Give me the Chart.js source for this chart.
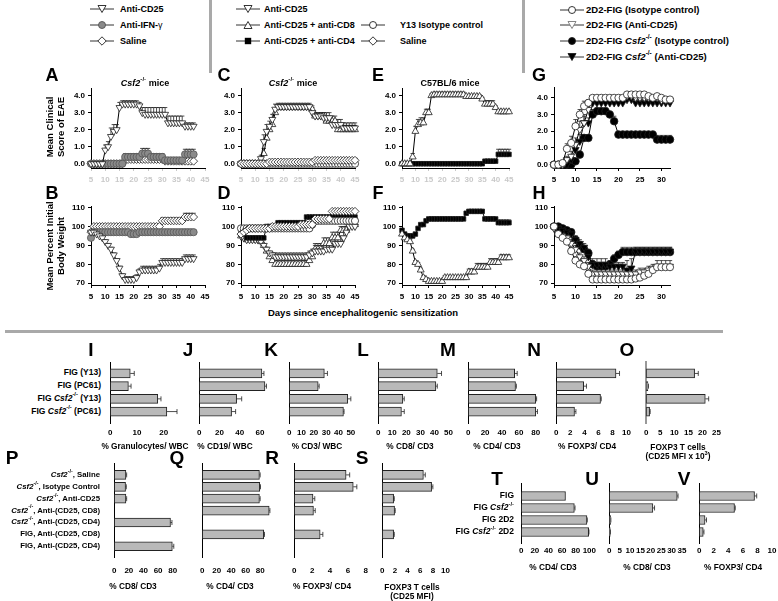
<!DOCTYPE html>
<html>
<head>
<meta charset="utf-8">
<script src="https://cdn.jsdelivr.net/npm/chart.js@4.4.1/dist/chart.umd.min.js"></script>
<style>
body{margin:0;width:778px;height:601px;background:#fff;position:relative;overflow:hidden;font-family:"Liberation Sans",Arial,sans-serif;color:#000}
.t{position:absolute;white-space:nowrap;font-weight:bold;line-height:1.12}
.sep{position:absolute;background:#a9a9a9}
canvas{position:absolute}
sup{font-size:0.68em;position:relative;top:-0.1em;vertical-align:super;line-height:0}
</style>
</head>
<body>
<script>
// ---- days (x categories) ----
const daysA = [5,6,7,8,9,10,11,12,13,14,15,16,17,18,19,20,21,22,23,24,25,26,27,28,29,30,31,32,33,34,35,36,37,38,39,40,41];
const daysCF = [5,6,7,8,9,10,11,12,13,14,15,16,17,18,19,20,21,22,23,24,25,26,27,28,29,30,31,32,33,34,35,36,37,38,39,40,41,42,43,44,45];
const daysGH = [5,6,7,8,9,10,11,12,13,14,15,16,17,18,19,20,21,22,23,24,25,26,27,28,29,30,31,32];

// ---- A / B : Csf2-/- mice ----
const aAntiCD25 = [0,0,0,0,0,0.8,1.0,1.6,1.9,2.0,3.3,3.5,3.5,3.5,3.5,3.5,3.5,3.4,3.0,2.9,2.9,2.9,2.9,2.9,2.9,2.9,2.9,2.4,2.4,2.4,2.4,2.4,2.4,2.2,2.2,2.2,2.2];
const aAntiCD25Err = [0,0,0,0,0,0.3,0.3,0.5,0.4,0.3,0.3,0.2,0.2,0.2,0.2,0.2,0.2,0.2,0.3,0.4,0.4,0.4,0.4,0.4,0.4,0.4,0.4,0.4,0.4,0.4,0.4,0.4,0.4,0.2,0.2,0.2,0.2];
const aAntiIFN = [0,0,0,0,0,0,0,0,0,0,0,0,0.4,0.4,0.4,0.4,0.4,0.4,0.6,0.6,0.6,0.4,0.4,0.4,0.4,0.4,0.2,0.2,0.2,0.2,0.2,0.2,0.2,0.55,0.55,0.55,0.55];
const aAntiIFNErr = [0,0,0,0,0,0,0,0,0,0,0,0,0.2,0.2,0.2,0.2,0.2,0.2,0.3,0.3,0.3,0.2,0.2,0.2,0.2,0.2,0,0,0,0,0,0,0,0.3,0.3,0.3,0.3];
const aSaline = [0,0,0,0,0,0,0,0,0,0,0,0,0.25,0.25,0.25,0.25,0.25,0.25,0.25,0.25,0.25,0.25,0.25,0.25,0.25,0.25,0.15,0.15,0.15,0.15,0.15,0.15,0.15,0.15,0.15,0.15,0.15];

const bAntiCD25 = [97,97,96,95,94,92,90,88,85,82,78,74,72,72,72,72,73,76,77,77,77,77,77,77,78,81,81,81,81,81,81,81,81,83,83,83,83];
const bAntiCD25Err = [1,1,1,1,1,1,1,1,1,1,1,1,1.5,1.5,1.5,1.5,1.5,1.5,2,2,2,2,2,2,2,2,2,2,2,2,2,2,2,2,2,2,2];
const bAntiIFN = [94,97,97,97,97,97,97,97,97,97,97,97,97,97,96,96,96,97,97,97,97,97,97,97,97,97,97,97,97,97,97,97,97,97,97,97,97];
const bSaline = [97,100,100,100,100,100,100,100,100,100,100,100,100,100,100,100,100,100,100,100,100,100,100,100,100,103,103,103,103,103,103,103,103,105,105,105,105];
const bSalineErr = [0,1,1,1,1,1,1,1,1,1,1,1,1,1,1,1,1,1,1,1,1,1,1,1,1,1.5,1.5,1.5,1.5,1.5,1.5,1.5,1.5,2,2,2,2];

// ---- C / D : Csf2-/- mice ----
const cAntiCD25 = [0,0,0,0,0,0,0,0.3,1.3,1.9,2.2,2.6,3.2,3.35,3.35,3.35,3.35,3.35,3.35,3.35,3.35,3.35,3.35,3.35,3.35,3.0,2.8,2.8,2.8,2.7,2.7,2.7,2.3,2.3,2.3,2.3,2.1,2.1,2.1,2.1,2.1];
const cAntiCD25Err = [0,0,0,0,0,0,0,0.2,0.4,0.4,0.3,0.3,0.3,0.2,0.2,0.2,0.2,0.2,0.2,0.2,0.2,0.2,0.2,0.2,0.2,0.3,0.2,0.2,0.2,0.3,0.3,0.3,0.3,0.3,0.3,0.3,0.3,0.3,0.3,0.3,0.3];
const cAntiCD8 = [0,0,0,0,0,0,0,0,0.6,1.5,2.0,2.3,3.0,3.3,3.3,3.3,3.3,3.3,3.3,3.3,3.3,3.3,3.3,3.3,3.3,3.2,2.8,2.8,2.8,2.8,2.5,2.5,2.5,2.5,2.0,2.0,2.0,2.0,2.0,2.0,2.0];
const cAntiCD8Err = [0,0,0,0,0,0,0,0,0.3,0.4,0.3,0.3,0.2,0.15,0.15,0.15,0.15,0.15,0.15,0.15,0.15,0.15,0.15,0.15,0.15,0.2,0.2,0.2,0.2,0.2,0.3,0.3,0.3,0.3,0.25,0.25,0.25,0.25,0.25,0.25,0.25];
const cAntiCD4 = [0,0,0,0,0,0,0,0,0,0,0,0,0,0,0,0,0,0,0,0,0,0,0,0,0,0,0,0,0,0,0,0,0,0,0,0.2,0.2,0.2,0.2,0.2,0.2];
const cY13 = [0,0,0,0,0,0,0,0,0,0,0,0,0,0,0,0,0,0,0,0,0,0,0,0,0,0,0,0,0,0,0,0,0,0,0,0,0,0,0,0,0];
const cSaline = [0,0,0,0,0,0,0,0,0,0,0.1,0.1,0.1,0.1,0.1,0.1,0.1,0.1,0.1,0.1,0.1,0.1,0.1,0.1,0.1,0.1,0.2,0.2,0.2,0.2,0.2,0.2,0.2,0.2,0.2,0.2,0.2,0.2,0.2,0.2,0.2];

const dAntiCD25 = [95,94,93,93,93,93,93,92,90,88,86,85,84,84,84,84,84,84,84,84,84,84,84,84,85,86,87,87,87,87,88,88,88,91,91,91,94,97,100,100,100];
const dAntiCD25Err = [1,1,1,1,1,1,1,1,1,1,1,1,2,2,2,2,2,2,2,2,2,2,2,2,2,2,3,3,3,3,3,3,3,4,4,4,4,4,3,3,3];
const dAntiCD8 = [95,94,93,93,93,93,93,92,90,87,84,82,80,80,80,80,80,80,80,80,80,80,80,80,82,84,88,88,88,91,91,91,94,94,94,98,98,98,101,101,101];
const dAntiCD8Err = [1,1,1,1,1,1,1,1,1,1,1,1,2,2,2,2,2,2,2,2,2,2,2,2,2,2,3,3,3,3,3,3,3,3,3,2,2,2,2,2,2];
const dAntiCD4 = [98,96,94,94,94,94,94,94,94,100,100,100,100,102,102,102,102,102,102,102,102,102,102,105,105,105,105,105,105,105,105,105,105,105,105,105,105,105,105,105,105];
const dY13 = [99,99,99,99,99,99,99,99,99,99,99,99,99,99,99,99,99,99,99,99,99,99,99,99,99,101,103,103,103,103,103,103,103,103,103,103,103,103,103,103,103];
const dSaline = [96,97,98,99,99,99,99,99,99,99,99,100,100,100,100,100,100,100,100,100,100,101,101,101,101,101,104,104,104,104,104,104,108,108,108,108,108,108,108,108,108];

// ---- E / F : C57BL/6 mice ----
const eAntiCD8 = [0,0,0,0,0.4,1.9,2.3,2.4,2.4,3.0,3.0,4.0,4.05,4.05,4.05,4.05,4.05,4.05,4.05,4.05,4.05,4.05,4.05,4.05,3.95,3.95,3.95,3.95,3.95,3.95,3.8,3.5,3.5,3.5,3.5,3.3,3.05,3.05,3.05,3.05,3.05];
const eAntiCD8Err = [0,0,0,0,0.2,0.3,0.3,0.3,0.3,0.2,0.2,0.1,0.15,0.15,0.15,0.15,0.15,0.15,0.15,0.15,0.15,0.15,0.15,0.15,0.1,0.1,0.1,0.1,0.1,0.1,0.1,0.2,0.2,0.2,0.2,0.1,0.1,0.1,0.1,0.1,0.1];
const eAntiCD4 = [0,0,0,0,0,0,0,0,0,0,0,0,0,0,0,0,0,0,0,0,0,0,0,0,0,0,0,0,0,0,0,0.15,0.15,0.15,0.15,0.15,0.55,0.55,0.55,0.55,0.55];
const eAntiCD4Err = [0,0,0,0,0,0,0,0,0,0,0,0,0,0,0,0,0,0,0,0,0,0,0,0,0,0,0,0,0,0,0,0,0,0,0,0,0.3,0.3,0.3,0.3,0.3];

const fAntiCD8 = [96,94,93,92,87,81,80,77,73,72,71,71,71,71,71,71,73,73,73,73,73,73,73,73,73,76,76,76,78.5,78.5,78.5,78.5,78.5,81,81,81,81,83.5,83.5,83.5,83.5];
const fAntiCD8Err = [1,1,1,1,1,1,1,1,1,1,1,1,1,1,1,1,1,1,1,1,1,1,1,1,1,1.5,1.5,1.5,2,2,2,2,2,2,2,2,2,1.5,1.5,1.5,1.5];
const fAntiCD4 = [98,96,95,95,95,96,99,101,101,103,104,104,104,104,104,104,104,104,104,104,104,104,104,104,107,108,108,108,108,108,108,104,104,104,104,104,102,102,102,102,102];
const fAntiCD4Err = [0.5,0.5,0.5,0.5,0.5,0.5,0.5,0.5,0.5,0.5,0.5,0.5,0.5,0.5,0.5,0.5,0.5,0.5,0.5,0.5,0.5,0.5,0.5,0.5,0.5,0.5,0.5,0.5,0.5,0.5,0.5,0.5,0.5,0.5,0.5,0.5,1.5,1.5,1.5,1.5,1.5];

// ---- G / H : 2D2-FIG ----
const gIso = [0,0,0.1,0.95,1.3,2.3,3.0,3.5,3.7,4.0,4.0,4.0,4.0,4.0,4.0,4.0,4.0,4.2,4.2,4.2,4.2,4.2,4.1,4.0,4.1,4.0,3.9,3.9];
const gIsoErr = [0,0,0.1,0.3,0.4,0.4,0.3,0.3,0.2,0.1,0.1,0.1,0.1,0.1,0.1,0.1,0.1,0.1,0.1,0.1,0.1,0.1,0.1,0.1,0.1,0.1,0.1,0.1];
const gAnti = [0,0,0,0.3,0.5,1.2,2.1,2.5,3.3,4.0,4.0,4.0,4.0,4.0,4.0,4.0,4.0,4.1,4.1,4.0,4.0,4.0,4.0,4.0,4.0,3.85,3.85,3.85];
const gAntiErr = [0,0,0,0.2,0.3,0.4,0.5,0.5,0.3,0.1,0.1,0.1,0.1,0.1,0.1,0.1,0.1,0.1,0.1,0.1,0.1,0.1,0.1,0.1,0.1,0.15,0.15,0.15];
const gCsfIso = [0,0,0,0,0,0.2,0.6,1.6,1.6,3.0,3.2,3.2,3.2,3.0,2.6,1.8,1.8,1.8,1.8,1.8,1.8,1.8,1.8,1.8,1.5,1.5,1.5,1.5];
const gCsfIsoErr = [0,0,0,0,0,0.1,0.2,0.2,0.2,0.3,0.2,0.2,0.2,0.2,0.3,0.2,0.2,0.2,0.2,0.2,0.2,0.2,0.2,0.2,0.25,0.25,0.25,0.25];
const gCsfAnti = [0,0,0,0,0.3,0.9,1.4,2.5,2.5,3.7,3.7,3.7,3.7,3.7,3.7,3.7,3.7,3.9,3.9,3.7,3.7,3.7,3.7,3.7,3.7,3.7,3.7,3.7];
const gCsfAntiErr = [0,0,0,0,0.2,0.3,0.4,0.4,0.3,0.2,0.2,0.2,0.2,0.2,0.2,0.2,0.2,0.1,0.1,0.2,0.2,0.2,0.2,0.2,0.2,0.2,0.2,0.2];

const hIso = [100,96,94,92,87,82,80,79,75,72,72,72,72,72,72,72,72,72,72,72.5,73,74,75,77,78.5,78.5,78.5,78.5];
const hIsoErr = [0,1,1,1,2,2,2,2,1,1,1,1,1,1,1,1,1,1,1,1,1,1,1,1,1.5,1.5,1.5,1.5];
const hAnti = [99,96,95,94,91,88,84,82,79,75,75,75,75,75,75,75,75,75,75,75,76,76,77,78,79,79,79,79];
const hAntiErr = [1,1,1,1,2,2,2,2,2,2,2,2,2,2,2,2,2,2,2,2,2,2,2,2,3,3,3,3];
const hCsfIso = [100,100,99,98,97,93,90,88,86,80,79,79,79,80,83,85,86.5,86.5,86.5,86.5,86.5,86.5,86.5,86.5,86.5,86.5,86.5,86.5];
const hCsfIsoErr = [0.5,0.5,1,1,1,2,2,2,2,2,2,2,2,2,2,2,2.5,2.5,2.5,2.5,2.5,2.5,2.5,2.5,2.5,2.5,2.5,2.5];
const hCsfAnti = [100,99,98,97,96,93,91,89,84,80,80,80,80,79,79,79,79,77,78,87,87,87,87,87,87,87,87,87];
const hCsfAntiErr = [0.5,1,1,1,1,2,2,2,2,3,3,3,3,2,2,2,2,5,5,2,2,2,2,2,2,2,2,2];

// ---- bar panels I-O ----
const CSF = '<i>Csf2</i><sup>-/-</sup>';
const catsI = ['FIG (Y13)', 'FIG (PC61)', 'FIG ' + CSF + ' (Y13)', 'FIG ' + CSF + ' (PC61)'];
const valsI = [7.5, 6.8, 17.8, 21.2], errI = [1.5, 1.0, 1.2, 3.8];
const valsJ = [62, 65, 37, 32], errJ = [2, 1.5, 5, 4];
const valsK = [28.5, 23.5, 47.5, 44], errK = [2.5, 0.8, 2.5, 0.5];
const valsL = [42, 41, 17.5, 16.5], errL = [3, 1, 1, 2];
const valsM = [55, 56, 80, 80], errM = [3, 1, 1, 2];
const valsN = [8.5, 3.9, 6.3, 2.6], errN = [0.5, 0.4, 0.1, 0.2];
const valsO = [17.2, 0.6, 21, 1.2], errO = [1.3, 0.2, 1.2, 0.2];

// ---- bar panels P-S ----
const catsP = [CSF + ', Saline', CSF + ', Isotype Control', CSF + ', Anti-CD25', CSF + ', Anti-(CD25, CD8)',
  CSF + ', Anti-(CD25, CD4)', 'FIG, Anti-(CD25, CD8)', 'FIG, Anti-(CD25, CD4)'];
const valsP = [16, 15.5, 16, null, 77, null, 79.5], errP = [1, 1, 1, null, 2, null, 2];
const valsQ = [79, 79.5, 79, 92.5, null, 85, null], errQ = [1, 1, 1, 1, null, 1, null];
const valsR = [5.8, 6.6, 2.1, 2.15, null, 2.9, null], errR = [0.4, 0.4, 0.2, 0.2, null, 0.3, null];
const valsS = [6.5, 7.8, 1.8, 1.95, null, 1.8, null], errS = [0.3, 0.2, 0.1, 0.1, null, 0.1, null];

// ---- bar panels T-V ----
const catsT = ['FIG', 'FIG ' + CSF, 'FIG 2D2', 'FIG ' + CSF + ' 2D2'];
const valsT = [65, 78, 96.5, 99], errT = [0, 1, 0.5, 0.5];
const valsU = [32.7, 21, 0.7, 0.5], errU = [0.4, 0.8, 0.1, 0.1];
const valsV = [7.6, 4.85, 0.8, 0.55], errV = [0.3, 0.1, 0.2, 0.1];

// marker styles: [pointStyle, rotation, radius, fill, stroke]
const INV = ['triangle', 180, 4, '#fff'];
const TRI = ['triangle', 0, 4, '#fff'];
const CIR = ['circle', 0, 3.6, '#fff'];
const GCIR = ['circle', 0, 3.6, '#8a8a8a', '#555'];
const DIA = ['rectRot', 0, 4, '#fff'];
const SQR = ['rect', 0, 3.2, '#000'];
const BCIR = ['circle', 0, 3.8, '#000'];
const BINV = ['triangle', 180, 4.2, '#000'];

Chart.defaults.font.family = '"Liberation Sans", Arial, sans-serif';
Chart.defaults.font.size = 8;
Chart.defaults.font.weight = 'bold';
Chart.defaults.color = '#000';
Chart.defaults.animation = false;
Chart.defaults.plugins.legend.display = false;
Chart.defaults.plugins.tooltip.enabled = false;

// error bars (upwards for lines, rightwards for bars)
const errorBars = {
  id: 'errorBars',
  beforeDatasetsDraw(chart) {
    const ctx = chart.ctx;
    const horiz = chart.options.indexAxis === 'y';
    const vs = horiz ? chart.scales.x : chart.scales.y;
    chart.data.datasets.forEach((ds, i) => {
      if (!ds.err) return;
      const meta = chart.getDatasetMeta(i);
      ctx.save();
      ctx.strokeStyle = '#222';
      ctx.lineWidth = 0.8;
      ctx.beginPath();
      meta.data.forEach((el, j) => {
        const e = ds.err[j], p = ds.data[j];
        if (!e || !p) return;
        if (horiz) {
          const x1 = vs.getPixelForValue(p.x + e);
          ctx.moveTo(el.x, el.y); ctx.lineTo(x1, el.y);
          ctx.moveTo(x1, el.y - 2.5); ctx.lineTo(x1, el.y + 2.5);
        } else {
          const y1 = vs.getPixelForValue(p.y + e);
          ctx.moveTo(el.x, el.y); ctx.lineTo(el.x, y1);
          ctx.moveTo(el.x - 2.2, y1); ctx.lineTo(el.x + 2.2, y1);
        }
      });
      ctx.stroke();
      ctx.restore();
    });
  }
};
Chart.register(errorBars);

// put a chart so its plot area lands on area = [left, top, right, bottom]
function place(area, yW, xH, config) {
  const padT = 7, padR = 9;
  const cv = document.createElement('canvas');
  cv.width = area[2] - area[0] + yW + padR;
  cv.height = area[3] - area[1] + padT + xH;
  cv.style.left = (area[0] - yW) + 'px';
  cv.style.top = (area[1] - padT) + 'px';
  document.body.appendChild(cv);
  config.options.responsive = false;
  config.options.layout = { padding: { top: padT, right: padR, left: 0, bottom: 0 } };
  config.options.scales.x.afterFit = s => { s.height = xH; };
  config.options.scales.y.afterFit = s => { s.width = yW; };
  return new Chart(cv, config);
}

function linePanel(area, days, xMax, sets, y, tickColor) {
  return place(area, 34, 20, {
    type: 'line',
    data: {
      datasets: sets.map(s => ({
        data: days.map((d, i) => ({ x: d, y: s.v[i] })),
        err: s.e,
        borderColor: '#000', borderWidth: 1, tension: 0, clip: false,
        pointStyle: s.m[0], pointRotation: s.m[1], pointRadius: s.m[2],
        pointBackgroundColor: s.m[3], pointBorderColor: s.m[4] || '#1e1e1e', pointBorderWidth: 0.8
      }))
    },
    options: {
      scales: {
        x: {
          type: 'linear', min: 5, max: xMax, border: { color: '#000' },
          grid: { drawOnChartArea: false, tickLength: 3, color: tickColor },
          ticks: { stepSize: 5, includeBounds: false, maxRotation: 0, autoSkip: false, padding: 4, color: tickColor }
        },
        y: {
          min: y.min, max: y.max, border: { color: '#000' },
          grid: { drawOnChartArea: false, tickLength: 3, color: '#000' },
          ticks: { stepSize: y.step, includeBounds: false, padding: 3, callback: v => y.dec ? v.toFixed(1) : v }
        }
      }
    }
  });
}

function barPanel(area, yr, xMax, step, vals, errs, opt) {
  const pts = [], es = [];
  vals.forEach((v, i) => { if (v != null) { pts.push({ x: v, y: i }); es.push(errs[i]); } });
  return place(area, 2, 22, {
    type: 'bar',
    data: {
      datasets: [{
        data: pts, err: es,
        backgroundColor: '#b9b9b9', borderColor: '#222', borderWidth: 1, borderSkipped: false, barThickness: 9
      }]
    },
    options: {
      indexAxis: 'y',
      scales: {
        x: {
          type: 'linear', min: 0, max: xMax, border: { display: false },
          grid: { display: false, drawTicks: false },
          ticks: { stepSize: step, includeBounds: false, maxRotation: 0, autoSkip: false, padding: opt.pad }
        },
        y: {
          type: 'linear', reverse: true, min: yr[0], max: yr[1], offset: false,
          border: { color: opt.axis || '#000', width: opt.aw || 1 },
          grid: { display: false }, ticks: { display: false }
        }
      }
    }
  });
}

function txt(html, x, y, o) {
  o = o || {};
  const d = document.createElement('div');
  d.className = 't';
  d.innerHTML = html;
  d.style.left = x + 'px';
  d.style.top = y + 'px';
  d.style.fontSize = (o.size || 9) + 'px';
  if (o.center) d.style.textAlign = 'center';
  const ax = o.align === 'r' ? '-100%' : o.align === 'l' ? '0' : '-50%';
  d.style.transform = 'translate(' + ax + ',-50%)' + (o.rot ? ' rotate(-90deg)' : '');
  document.body.appendChild(d);
}

function catLabels(chart, cats, x, size) {
  const top = parseFloat(chart.canvas.style.top);
  cats.forEach((c, i) => txt(c, x, top + chart.scales.y.getPixelForValue(i), { align: 'r', size: size }));
}

function sep(l, t, w, h) {
  const d = document.createElement('div');
  d.className = 'sep';
  Object.assign(d.style, { left: l + 'px', top: t + 'px', width: w + 'px', height: h + 'px' });
  document.body.appendChild(d);
}

// legend marker sample
function mark(x, y, m) {
  let shape = '';
  const f = m.fill, s = m.stroke || '#1e1e1e';
  if (m.k === 'inv') shape = `<polygon points="8,1.5 16,1.5 12,8.5" fill="${f}" stroke="${s}" stroke-width="0.9"/>`;
  if (m.k === 'tri') shape = `<polygon points="8,8.5 16,8.5 12,1.5" fill="${f}" stroke="${s}" stroke-width="0.9"/>`;
  if (m.k === 'cir') shape = `<circle cx="12" cy="5" r="3.5" fill="${f}" stroke="${s}" stroke-width="0.9"/>`;
  if (m.k === 'dia') shape = `<polygon points="12,0.8 16.2,5 12,9.2 7.8,5" fill="${f}" stroke="${s}" stroke-width="0.9"/>`;
  if (m.k === 'sq') shape = `<rect x="8.8" y="1.8" width="6.4" height="6.4" fill="${f}"/>`;
  const d = document.createElement('div');
  d.innerHTML = `<svg width="24" height="10"><line x1="0" y1="5" x2="24" y2="5" stroke="#333" stroke-width="1"/>${shape}</svg>`;
  Object.assign(d.style, { position: 'absolute', left: x + 'px', top: (y - 5) + 'px', width: '24px', height: '10px', lineHeight: 0 });
  document.body.appendChild(d);
}

// ---------------- legends ----------------
mark(90, 9, { k: 'inv', fill: '#fff' });  txt('Anti-CD25', 120, 9, { align: 'l' });
mark(90, 25, { k: 'cir', fill: '#8a8a8a', stroke: '#555' }); txt('Anti-IFN-<span style="font-weight:normal">&gamma;</span>', 120, 25, { align: 'l' });
mark(90, 41, { k: 'dia', fill: '#fff' }); txt('Saline', 120, 41, { align: 'l' });

mark(236, 9, { k: 'inv', fill: '#fff' });  txt('Anti-CD25', 264, 9, { align: 'l' });
mark(236, 25, { k: 'tri', fill: '#fff' }); txt('Anti-CD25 + anti-CD8', 264, 25, { align: 'l' });
mark(236, 41, { k: 'sq', fill: '#000' });  txt('Anti-CD25 + anti-CD4', 264, 41, { align: 'l' });
mark(361, 25, { k: 'cir', fill: '#fff' }); txt('Y13 Isotype control', 400, 25, { align: 'l' });
mark(361, 41, { k: 'dia', fill: '#fff' }); txt('Saline', 400, 41, { align: 'l' });

mark(560, 10, { k: 'cir', fill: '#fff' }); txt('2D2-FIG (Isotype control)', 586, 10, { align: 'l', size: 9.5 });
mark(560, 25, { k: 'inv', fill: '#fff', stroke: '#777' }); txt('2D2-FIG (Anti-CD25)', 586, 25, { align: 'l', size: 9.5 });
mark(560, 41, { k: 'cir', fill: '#000' }); txt('2D2-FIG ' + CSF + ' (Isotype control)', 586, 41, { align: 'l', size: 9.5 });
mark(560, 57, { k: 'inv', fill: '#000' }); txt('2D2-FIG ' + CSF + ' (Anti-CD25)', 586, 57, { align: 'l', size: 9.5 });

sep(209, 0, 3, 73);
sep(522, 0, 3, 73);
sep(5, 330, 718, 3);

// ---------------- line panels ----------------
const scoreY = { min: -0.25, max: 4.4, step: 1, dec: true };
const weightY = { min: 69.1, max: 110.4, step: 10 };
const faint = '#c9c9c9';

linePanel([91, 88, 205, 168], daysA, 45, [
  { v: aAntiCD25, e: aAntiCD25Err, m: INV },
  { v: aAntiIFN, e: aAntiIFNErr, m: GCIR },
  { v: aSaline, m: DIA }
], scoreY, faint);
linePanel([91, 206, 205, 285], daysA, 45, [
  { v: bAntiCD25, e: bAntiCD25Err, m: INV },
  { v: bAntiIFN, m: GCIR },
  { v: bSaline, e: bSalineErr, m: DIA }
], weightY, '#000');

linePanel([241, 88, 355, 168], daysCF, 45, [
  { v: cSaline, m: DIA },
  { v: cY13, m: CIR },
  { v: cAntiCD25, e: cAntiCD25Err, m: INV },
  { v: cAntiCD8, e: cAntiCD8Err, m: TRI },
  { v: cAntiCD4, m: SQR }
], scoreY, faint);
linePanel([241, 206, 355, 285], daysCF, 45, [
  { v: dSaline, m: DIA },
  { v: dY13, m: CIR },
  { v: dAntiCD4, m: SQR },
  { v: dAntiCD25, e: dAntiCD25Err, m: INV },
  { v: dAntiCD8, e: dAntiCD8Err, m: TRI }
], weightY, '#000');

linePanel([402, 88, 509, 168], daysCF, 45, [
  { v: eAntiCD8, e: eAntiCD8Err, m: TRI },
  { v: eAntiCD4, e: eAntiCD4Err, m: SQR }
], scoreY, faint);
linePanel([402, 206, 509, 285], daysCF, 45, [
  { v: fAntiCD8, e: fAntiCD8Err, m: TRI },
  { v: fAntiCD4, e: fAntiCD4Err, m: SQR }
], weightY, '#000');

linePanel([554, 87, 670, 168], daysGH, 32, [
  { v: gIso, e: gIsoErr, m: CIR },
  { v: gAnti, e: gAntiErr, m: INV },
  { v: gCsfAnti, e: gCsfAntiErr, m: BINV },
  { v: gCsfIso, e: gCsfIsoErr, m: BCIR }
], { min: -0.2, max: 4.6, step: 1, dec: true }, '#000');
linePanel([554, 206, 670, 285], daysGH, 32, [
  { v: hIso, e: hIsoErr, m: CIR },
  { v: hAnti, e: hAntiErr, m: INV },
  { v: hCsfAnti, e: hCsfAntiErr, m: BINV },
  { v: hCsfIso, e: hCsfIsoErr, m: BCIR }
], weightY, '#000');

// letters and titles of the line panels
[['A', 52, 75], ['B', 52, 193], ['C', 224, 75], ['D', 224, 193], ['E', 378, 75], ['F', 378, 193], ['G', 539, 75], ['H', 539, 193]]
  .forEach(l => txt(l[0], l[1], l[2], { size: 18 }));
txt(CSF + ' mice', 145, 83);
txt(CSF + ' mice', 293, 83);
txt('C57BL/6 mice', 450, 83);
txt('Mean Clinical<br>Score of EAE', 56, 127, { rot: true, center: true, size: 9.5 });
txt('Mean Percent Initial<br>Body Weight', 56, 246, { rot: true, center: true, size: 9.5 });
txt('Days since encephalitogenic sensitization', 363, 313, { size: 9.5 });

// ---------------- bar panels I-O ----------------
const r1 = [-0.9, 3.9];
const chI = barPanel([105, 362, 177, 423], r1, 25, 10, valsI, errI, { pad: 5 });
barPanel([194, 362, 270, 423], r1, 70, 20, valsJ, errJ, { pad: 5 });
barPanel([284, 362, 357, 423], r1, 55, 10, valsK, errK, { pad: 5 });
barPanel([373, 362, 449, 423], r1, 50, 10, valsL, errL, { pad: 5 });
barPanel([463, 362, 540, 423], r1, 85, 20, valsM, errM, { pad: 5 });
barPanel([551, 362, 627, 423], r1, 10, 2, valsN, errN, { pad: 5 });
barPanel([641, 362, 717, 423], r1, 25, 5, valsO, errO, { pad: 5, axis: '#999', aw: 2 });
catLabels(chI, catsI, 101, 8.5);
[['I', 91], ['J', 188], ['K', 271], ['L', 363], ['M', 448], ['N', 534], ['O', 627]].forEach(l => txt(l[0], l[1], 350, { size: 19 }));
txt('% Granulocytes/ WBC', 145, 447, { size: 8.3 });
txt('% CD19/ WBC', 225, 447, { size: 8.3 });
txt('% CD3/ WBC', 317, 447, { size: 8.3 });
txt('% CD8/ CD3', 410, 447, { size: 8.3 });
txt('% CD4/ CD3', 497, 447, { size: 8.3 });
txt('% FOXP3/ CD4', 587, 447, { size: 8.3 });
txt('FOXP3 T cells<br>(CD25 MFI x 10<sup>3</sup>)', 678, 452, { size: 8.3, center: true });

// ---------------- bar panels P-S ----------------
const r2 = [-1.0, 6.9];
const chP = barPanel([105, 463, 180, 557], r2, 90, 20, valsP, errP, { pad: 9 });
barPanel([193, 463, 271, 557], r2, 95, 20, valsQ, errQ, { pad: 9 });
barPanel([285, 463, 368, 557], r2, 8, 2, valsR, errR, { pad: 9 });
barPanel([373, 463, 450, 557], r2, 10, 2, valsS, errS, { pad: 9 });
catLabels(chP, catsP, 100, 7.8);
[['P', 12], ['Q', 177], ['R', 272], ['S', 362]].forEach(l => txt(l[0], l[1], 458, { size: 19 }));
txt('% CD8/ CD3', 133, 587, { size: 8.3 });
txt('% CD4/ CD3', 230, 587, { size: 8.3 });
txt('% FOXP3/ CD4', 322, 587, { size: 8.3 });
txt('FOXP3 T cells<br>(CD25 MFI)', 412, 592, { size: 8.3, center: true });

// ---------------- bar panels T-V ----------------
const r3 = [-1.08, 3.92];
const chT = barPanel([518, 483, 590, 543], r3, 100, 20, valsT, errT, { pad: 3 });
barPanel([606, 483, 682, 543], r3, 35, 5, valsU, errU, { pad: 3 });
barPanel([696, 483, 772, 543], r3, 10, 2, valsV, errV, { pad: 3 });
catLabels(chT, catsT, 514, 8.5);
[['T', 497], ['U', 592], ['V', 684]].forEach(l => txt(l[0], l[1], 479, { size: 19 }));
txt('% CD4/ CD3', 553, 568, { size: 8.3 });
txt('% CD8/ CD3', 647, 568, { size: 8.3 });
txt('% FOXP3/ CD4', 733, 568, { size: 8.3 });
</script>
</body>
</html>
